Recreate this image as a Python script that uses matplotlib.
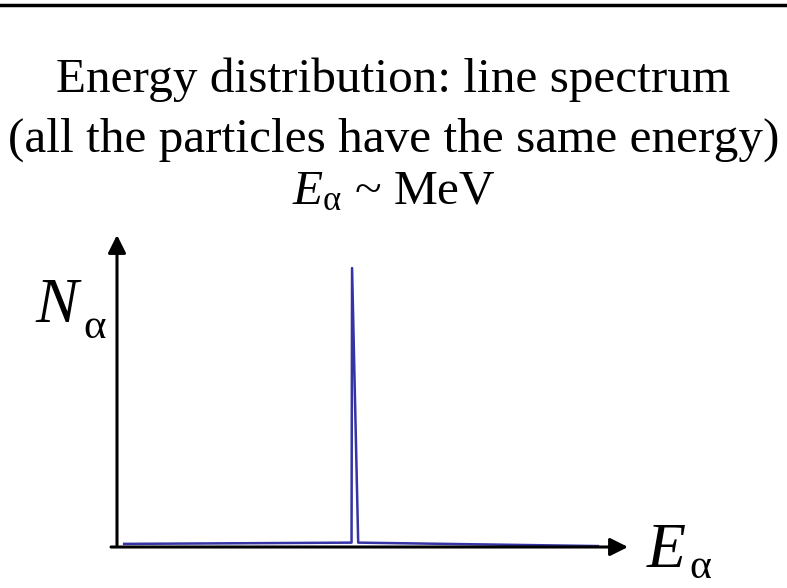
import matplotlib
matplotlib.use("Agg")
import matplotlib.pyplot as plt
from matplotlib.lines import Line2D

plt.rcParams['font.family'] = ['Liberation Serif', 'DejaVu Serif']
plt.rcParams['mathtext.fontset'] = 'custom'
plt.rcParams['mathtext.rm'] = 'Liberation Serif'
plt.rcParams['mathtext.it'] = 'Liberation Serif:italic'

# Data: alpha energy spectrum (arbitrary units)
energy = [0.14, 4.59, 4.60, 4.72, 9.41]
counts = [0.010, 0.014, 0.894, 0.014, 0.003]

title_lines = ["Energy distribution: line spectrum",
               "(all the particles have the same energy)"]
title_line3 = r"$E_{\mathrm{\alpha}}$ ~ MeV"

W, H = 787, 588
fig = plt.figure(figsize=(W / 100, H / 100), dpi=100)

# axes: origin at (117, 547) px, x=10 at 628 px, y=1 at 235 px
x0, y0, x1, y1 = 117, 547, 628, 235
ax = fig.add_axes([x0 / W, 1 - y0 / H, (x1 - x0) / W, (y0 - y1) / H])
ax.set_xlim(0, 10)
ax.set_ylim(0, 1)
ax.axis('off')

ax.plot(energy, counts, color='#3434a4', lw=1.8, clip_on=False, zorder=3)

# axis arrows
arrow = dict(arrowstyle='-|>', mutation_scale=27, lw=2.2, color='black',
             shrinkA=0, shrinkB=0)
ax.annotate('', xy=(10, 0), xytext=(-0.117, 0), arrowprops=arrow,
            annotation_clip=False)
ax.annotate('', xy=(0, 1), xytext=(0, 0.006), arrowprops=arrow,
            annotation_clip=False)

# top rule
fig.add_artist(Line2D([0, 1], [1 - 5 / H] * 2, transform=fig.transFigure,
                      color='black', lw=2.5))

# titles
fs = 35.5
fig.text(0.5, 1 - 92 / H, title_lines[0], ha='center', va='baseline', fontsize=fs)
fig.text(0.5, 1 - 152 / H, title_lines[1], ha='center', va='baseline', fontsize=fs)
fig.text(0.5, 1 - 204 / H, title_line3, ha='center', va='baseline', fontsize=fs)

# axis labels (italic symbol + upright alpha subscript)
fig.text(35 / W, 1 - 322 / H, "N", style='italic', ha='left', va='baseline', fontsize=46)
fig.text(83 / W, 1 - 338 / H, "α", ha='left', va='baseline', fontsize=31)
fig.text(647 / W, 1 - 567 / H, "E", style='italic', ha='left', va='baseline', fontsize=46)
fig.text(689 / W, 1 - 578 / H, "α", ha='left', va='baseline', fontsize=30)

fig.savefig('out.png', dpi=100)
